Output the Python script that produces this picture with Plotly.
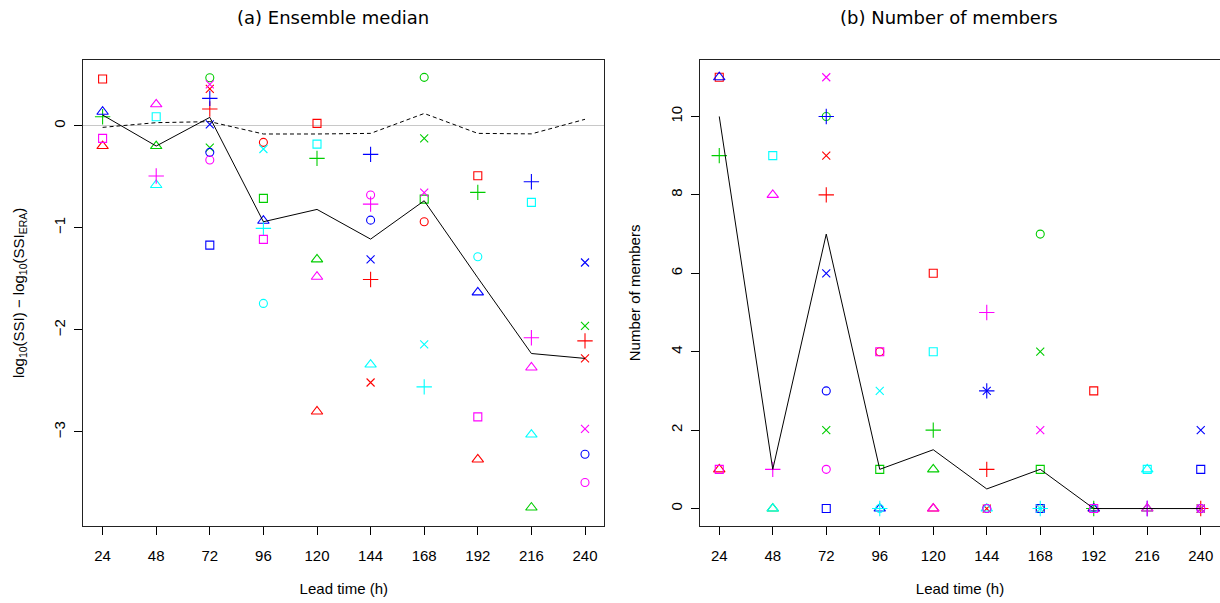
import plotly.graph_objects as go

N = None
lead_times = [24, 48, 72, 96, 120, 144, 168, 192, 216, 240]

# Panel (a): ensemble median and reference (dashed) lines
median_ssi = [0.105, -0.199, 0.082, -0.941, -0.82, -1.111, -0.735, -1.49, -2.232, -2.28]
ref_ssi = [-0.016, 0.03, 0.04, -0.081, -0.081, -0.075, 0.12, -0.075, -0.08, 0.063]
# Panel (b): median number of members
median_members = [10, 1, 7, 1, 1.5, 0.5, 1, 0, 0, 0]

# Per-model values: log10(SSI) - log10(SSI_ERA)  (panel a) and number of members (panel b)
ssi_red_square = [0.458, N, N, N, 0.023, N, N, -0.49, N, N]
n_red_square = [11, N, N, N, 6, N, N, 3, N, N]
ssi_red_circle = [N, N, N, -0.163, N, N, -0.941, N, N, N]
n_red_circle = [N, N, N, 4, N, N, 0, N, N, N]
ssi_red_triangle = [-0.199, N, N, N, -2.80, N, N, -3.27, N, N]
n_red_triangle = [1, N, N, N, 0, N, N, 0, N, N]
ssi_red_plus = [N, N, 0.164, N, N, -1.506, N, N, N, -2.108]
n_red_plus = [N, N, 8, N, N, 1, N, N, N, 0]
ssi_red_x = [N, N, 0.36, N, N, -2.516, N, N, N, -2.28]
n_red_x = [N, N, 9, N, N, 0, N, N, N, 0]

ssi_green_square = [N, N, N, -0.712, N, N, -0.719, N, N, N]
n_green_square = [N, N, N, 1, N, N, 1, N, N, N]
ssi_green_circle = [N, N, 0.47, N, N, N, 0.474, N, N, N]
n_green_circle = [N, N, 10, N, N, N, 7, N, N, N]
ssi_green_triangle = [N, -0.199, N, N, -1.31, N, N, N, -3.741, N]
n_green_triangle = [N, 0, N, N, 1, N, N, N, 0, N]
ssi_green_plus = [0.088, N, N, N, -0.32, N, N, -0.653, N, N]
n_green_plus = [9, N, N, N, 2, N, N, 0, N, N]
ssi_green_x = [N, N, -0.215, N, N, N, -0.124, N, N, -1.961]
n_green_x = [N, N, 2, N, N, N, 4, N, N, 0]

ssi_blue_square = [N, N, -1.17, N, N, N, N, N, N, N]
n_blue_square = [N, N, 0, N, N, N, 0, N, N, 1]
ssi_blue_circle = [N, N, -0.261, N, N, -0.925, N, N, N, -3.219]
n_blue_circle = [N, N, 3, N, N, 0, N, N, N, 0]
ssi_blue_triangle = [0.137, N, N, -0.931, N, N, N, -1.633, N, N]
n_blue_triangle = [11, N, N, 0, N, N, N, 0, N, N]
ssi_blue_plus = [N, N, 0.268, N, N, -0.281, N, N, -0.549, N]
n_blue_plus = [N, N, 10, N, N, 3, N, N, 0, N]
ssi_blue_x = [N, N, 0.014, N, N, -1.31, N, N, N, -1.34]
n_blue_x = [N, N, 6, N, N, 3, N, N, N, 2]

ssi_cyan_square = [N, 0.088, N, N, -0.18, N, N, N, -0.751, N]
n_cyan_square = [N, 9, N, N, 4, N, N, N, 1, N]
ssi_cyan_circle = [N, N, N, -1.741, N, N, N, -1.284, N, N]
n_cyan_circle = [N, N, N, 0, N, N, N, 0, N, N]
ssi_cyan_triangle = [N, -0.581, N, N, N, -2.34, N, N, -3.026, N]
n_cyan_triangle = [N, 0, N, N, N, 0, N, N, 1, N]
ssi_cyan_plus = [N, N, N, -1.006, N, N, -2.559, N, N, N]
n_cyan_plus = [N, N, N, 0, N, N, 0, N, N, N]
ssi_cyan_x = [N, N, N, -0.228, N, N, -2.143, N, N, N]
n_cyan_x = [N, N, N, 3, N, N, 0, N, N, N]

ssi_magenta_square = [-0.124, N, N, -1.114, N, N, N, -2.853, N, N]
n_magenta_square = [1, N, N, 4, N, N, N, 0, N, N]
ssi_magenta_circle = [N, N, -0.336, N, N, -0.679, N, N, N, -3.496]
n_magenta_circle = [N, N, 1, N, N, 0, N, N, N, 0]
ssi_magenta_triangle = [N, 0.21, N, N, -1.48, N, N, N, -2.369, N]
n_magenta_triangle = [N, 8, N, N, 0, N, N, N, 0, N]
ssi_magenta_plus = [N, -0.493, N, N, N, -0.768, N, N, -2.078, N]
n_magenta_plus = [N, 1, N, N, N, 5, N, N, 0, N]
ssi_magenta_x = [N, N, 0.406, N, N, N, -0.656, N, N, -2.97]
n_magenta_x = [N, N, 11, N, N, N, 2, N, N, 0]

colors = {"red": "#FF0000", "green": "#00CD00", "blue": "#0000FF",
          "cyan": "#00FFFF", "magenta": "#FF00FF"}
symbols = {"square": ("square-open", 8), "circle": ("circle-open", 8),
           "triangle": ("triangle-up-open", 10), "plus": ("cross-thin-open", 11),
           "x": ("x-thin-open", 8)}

g = globals()
fig = go.Figure()

for cname, ccode in colors.items():
    for sname, (sym, sz) in symbols.items():
        key = f"{cname}_{sname}"
        for arr, xa, ya in ((g["ssi_" + key], "x", "y"), (g["n_" + key], "x2", "y2")):
            xs = [t for t, v in zip(lead_times, arr) if v is not None]
            ys = [v for v in arr if v is not None]
            if not xs:
                continue
            fig.add_trace(go.Scatter(
                x=xs, y=ys, mode="markers", xaxis=xa, yaxis=ya, showlegend=False,
                name=key,
                marker=dict(symbol=sym, size=sz, color=ccode,
                            line=dict(color=ccode, width=1.1))))

fig.add_trace(go.Scatter(x=lead_times, y=ref_ssi, mode="lines", xaxis="x", yaxis="y",
                         line=dict(color="black", width=1, dash="4px,3px"), showlegend=False))
fig.add_trace(go.Scatter(x=lead_times, y=median_ssi, mode="lines", xaxis="x", yaxis="y",
                         line=dict(color="black", width=1), showlegend=False))
fig.add_trace(go.Scatter(x=lead_times, y=median_members, mode="lines", xaxis="x2", yaxis="y2",
                         line=dict(color="black", width=1), showlegend=False))

W, H = 1220, 603
ydom = [(H - 525.8) / H, (H - 60) / H]
tickfont = dict(family="Liberation Sans, Arial, sans-serif", size=15, color="black")
titlefont = dict(family="Liberation Sans, Arial, sans-serif", size=15, color="black")

common_x = dict(range=[15.36, 248.64], tickvals=lead_times, ticks="outside", ticklen=8,
                tickcolor="black", showline=True, linecolor="#222", linewidth=1, mirror=True,
                showgrid=False, zeroline=False, tickfont=tickfont, ticklabelstandoff=8,
                title=dict(text="Lead time (h)", font=titlefont, standoff=20))

common_y = dict(ticks="outside", ticklen=8, tickcolor="black", tickangle=-90,
                showline=True, linecolor="#222", linewidth=1, mirror=True, showgrid=False,
                tickfont=tickfont, ticklabelstandoff=3)

fig.update_layout(
    width=W, height=H, margin=dict(l=0, r=0, t=0, b=0),
    plot_bgcolor="white", paper_bgcolor="white",
    xaxis=dict(domain=[83.3 / W, 604.3 / W], anchor="y", **common_x),
    xaxis2=dict(domain=[700 / W, 1.0], anchor="y2", **common_x),
    yaxis=dict(domain=ydom, anchor="x", range=[-3.92, 0.644], tickvals=[-3, -2, -1, 0],
               ticktext=["\u22123", "\u22122", "\u22121", "0"],
               zeroline=True, zerolinecolor="#C8C8C8", zerolinewidth=1,
               title=dict(text="log<sub>10</sub>(SSI) \u2212 log<sub>10</sub>(SSI<sub>ERA</sub>)",
                          font=titlefont, standoff=23), **common_y),
    yaxis2=dict(domain=ydom, anchor="x2", range=[-0.44, 11.44], tickvals=[0, 2, 4, 6, 8, 10],
                zeroline=False,
                title=dict(text="Number of members", font=titlefont, standoff=23), **common_y),
    annotations=[
        dict(text="(a) Ensemble median", x=333 / W, y=1 - 18 / H,
             xref="paper", yref="paper", showarrow=False, xanchor="center", yanchor="middle",
             font=dict(family="DejaVu Sans, sans-serif", size=18, color="black")),
        dict(text="(b) Number of members", x=949 / W, y=1 - 18 / H,
             xref="paper", yref="paper", showarrow=False, xanchor="center", yanchor="middle",
             font=dict(family="DejaVu Sans, sans-serif", size=18, color="black")),
    ],
)

fig.write_html("out.html", config={"displayModeBar": False},
               post_script="document.body.style.margin='0';document.body.style.overflow='hidden';")
